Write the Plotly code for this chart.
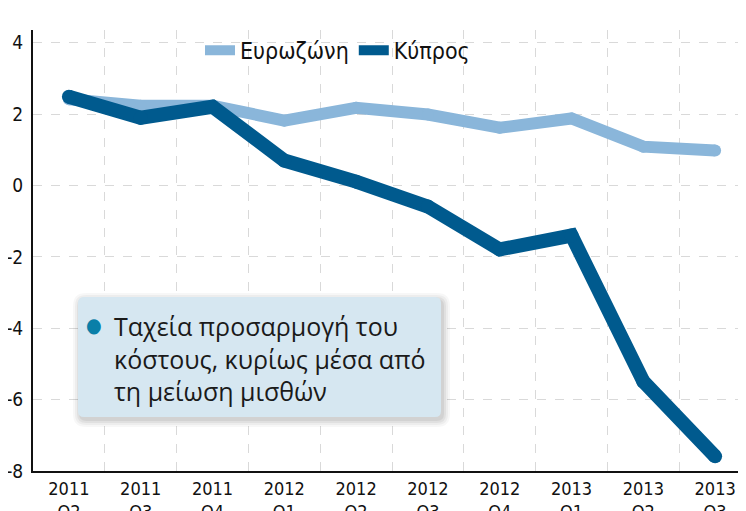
import plotly.graph_objects as go

categories = ["2011<br>Q2", "2011<br>Q3", "2011<br>Q4", "2012<br>Q1", "2012<br>Q2",
              "2012<br>Q3", "2012<br>Q4", "2013<br>Q1", "2013<br>Q2", "2013<br>Q3"]
eurozone = [2.42, 2.24, 2.24, 1.82, 2.18, 1.99, 1.62, 1.88, 1.09, 0.98]
cyprus = [2.49, 1.90, 2.21, 0.70, 0.11, -0.59, -1.79, -1.40, -5.49, -7.59]
y_ticks = [4, 2, 0, -2, -4, -6, -8]

xs = list(range(len(categories)))
LIGHT = "#8ab6da"
DARK = "#005a8e"
FONT_C = "DejaVu Sans Condensed, Roboto, sans-serif"

fig = go.Figure()
for name, vals, col, w in [("Ευρωζώνη", eurozone, LIGHT, 12), ("Κύπρος", cyprus, DARK, 14)]:
    fig.add_trace(go.Scatter(x=xs, y=vals, name=name, mode="lines", legendgroup=name,
                             line=dict(color=col, width=w)))
    # round joins / caps
    fig.add_trace(go.Scatter(x=xs, y=vals, name=name, mode="markers", legendgroup=name,
                             showlegend=False, hoverinfo="skip",
                             marker=dict(color=col, size=w, line=dict(width=0))))

# page offset of 8px (default body margin) is compensated in the margins
PW, PH, L, B = 713, 441, 33, 471


def px(x):
    return (x - L) / PW


def py(y):
    return (B - y) / PH


def rounded_rect(x0, y0, x1, y1, r):
    # page pixel coords -> paper-coordinate SVG path with rounded corners
    rx, ry = r / PW, r / PH
    X0, X1 = px(x0), px(x1)
    Yt, Yb = py(y0), py(y1)
    return (f"M {X0 + rx},{Yt} L {X1 - rx},{Yt} Q {X1},{Yt} {X1},{Yt - ry} "
            f"L {X1},{Yb + ry} Q {X1},{Yb} {X1 - rx},{Yb} "
            f"L {X0 + rx},{Yb} Q {X0},{Yb} {X0},{Yb + ry} "
            f"L {X0},{Yt - ry} Q {X0},{Yt} {X0 + rx},{Yt} Z")


# annotation box (soft shadow + rounded box)
for off, a in [(7, 0.03), (5, 0.04), (3, 0.05), (1, 0.06)]:
    fig.add_shape(type="path", xref="paper", yref="paper",
                  path=rounded_rect(78 - off + 2, 297 - off + 3, 441 + off + 2, 417 + off + 3, 6 + off),
                  fillcolor=f"rgba(0,0,0,{a})", line=dict(width=0), layer="above")
fig.add_shape(type="path", xref="paper", yref="paper",
              path=rounded_rect(78, 297, 441, 417, 6),
              fillcolor="#d6e7f1", line=dict(width=0), layer="above")
fig.add_annotation(xref="paper", yref="paper",
                   x=px(112), y=py(358),
                   xanchor="left", yanchor="middle", align="left", showarrow=False,
                   text="Ταχεία προσαρμογή του<br>κόστους, κυρίως μέσα από<br>τη μείωση μισθών",
                   font=dict(family="Open Sans, sans-serif", size=25, color="#1a1a1a"))
fig.add_annotation(xref="paper", yref="paper",
                   x=px(94), y=py(325),
                   xanchor="center", yanchor="middle", showarrow=False,
                   text="●", font=dict(size=20, color="#0a7fa8"))

fig.update_layout(
    width=738, height=503,
    margin=dict(l=25, r=0, t=22, b=40, autoexpand=False),
    paper_bgcolor="white", plot_bgcolor="white",
    font=dict(family=FONT_C, color="#1a1a1a"),
    showlegend=True,
    legend=dict(orientation="h", x=px(200), y=1.003, xanchor="left", yanchor="top",
                font=dict(family=FONT_C, size=23, color="#111111"),
                bgcolor="rgba(0,0,0,0)", itemwidth=30, tracegroupgap=0),
    xaxis=dict(range=[-0.5, 9.43], tickvals=xs, ticktext=categories,
               showgrid=False, zeroline=False, automargin=False,
               showline=True, linecolor="#111111", linewidth=2,
               ticks="", tickfont=dict(family=FONT_C, size=18, color="#111111"),
               minor=dict(tickvals=[i + 0.5 for i in range(9)], showgrid=True,
                          gridcolor="#d9d9d9", griddash="dash", gridwidth=1, ticks="")),
    yaxis=dict(range=[-8, 4.36], tickvals=y_ticks, ticktext=[str(v) for v in y_ticks],
               showgrid=True, gridcolor="#d9d9d9", griddash="dash", gridwidth=1,
               zeroline=False, showline=True, linecolor="#111111", linewidth=2,
               ticks="", ticklabelstandoff=4, automargin=False,
               tickfont=dict(family=FONT_C, size=19, color="#111111")),
)

fig.write_html("out.html")
